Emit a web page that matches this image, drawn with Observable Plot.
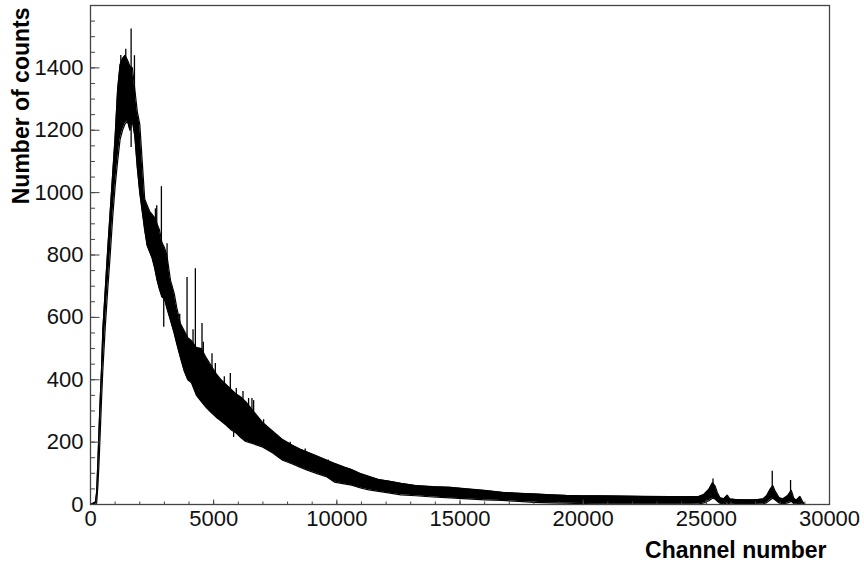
<!DOCTYPE html>
<html>
<head>
<meta charset="utf-8">
<script src="https://cdn.jsdelivr.net/npm/d3@7"></script>
<script src="https://cdn.jsdelivr.net/npm/@observablehq/plot@0.6"></script>
<style>
  html, body { margin: 0; padding: 0; background: #fff; }
</style>
</head>
<body>
<div id="chart"></div>
<script>
// Histogram envelope (channel, lower edge, upper edge of the noisy band)
const channels = [0,200,250,300,350,400,450,500,600,700,800,900,1000,1100,1200,1300,1400,1500,1600,1700,1800,1900,2000,2100,2200,2300,2400,2500,2600,2700,2800,2900,3000,3100,3250,3400,3500,3650,3800,3950,4100,4300,4500,4700,4900,5100,5300,5500,5700,5900,6100,6300,6600,7000,7400,7800,8200,8500,8800,9200,9600,9900,10300,10600,11000,11300,11700,12100,12600,13200,13900,14600,15300,16000,16700,17400,18000,18700,19300,20000,20600,21500,22500,23500,24300,24700,24900,25100,25250,25350,25450,25550,25700,25850,25950,26200,26600,27000,27300,27450,27600,27700,27800,27950,28100,28300,28450,28550,28650,28800,28900,29000];
const lower = [0,0,5,60,140,240,340,430,570,690, 800,920,1020,1100,1170,1200,1220,1230,1200,1230, 1180,1080,1000,940,880,830,810,790,760,720, 690,665,660,630,590,548,516,471,429,400, 390,350,330,311,295,280,268,255,240,230, 215,202,195,184,165,142,130,120,110,99, 88,72,66,62,52,47,42,37,31,28, 24,21,18,15,13,10,7,5,4,3, 2,1,1,1,1,2,5,12,20,18, 10,4,2,5,2,0,0,0,2,6, 15,20,14,5,2,5,10,3,2,4, 1,0];
const upper = [0,8,40,140,250,350,440,560,690,820, 940,1060,1180,1330,1410,1430,1440,1425,1405,1400, 1330,1260,1220,1100,980,960,940,930,920,900, 880,840,824,800,718,676,632,580,558,535, 525,503,500,470,445,420,400,385,370,355, 345,330,300,262,235,208,190,178,168,155, 142,132,120,112,98,90,80,75,68,61, 57,55,50,45,39,36,34,31,29,28, 28,27,26,25,25,26,32,48,70,60, 38,22,18,30,18,16,15,15,18,28, 50,60,42,22,18,28,45,20,14,26, 10,0];

// Isolated spikes sticking out of the band (channel, low end, high end)
const spikeChannels = [1230,1432,1649,1784,2432,2635,2689,2878,2973,3108,3311,3622,3919,4162,4257,4527,4580,4932,5068,5432,5676,5810,5919,6190,6418,6554,6622,7027,7568,8108,8716,9649,11014,25270,27676,28419];
const spikeLow  = [1250,1300,1145,1300,820,820,850,800,568,650,600,520,480,450,480,420,420,380,360,320,300,215,290,270,260,250,250,210,180,160,140,110,70,30,40,20];
const spikeHigh = [1440,1460,1525,1439,932,948,958,1019,700,836,700,610,728,560,756,580,520,483,452,410,420,300,372,362,340,340,333,272,222,200,178,143,95,82,107,77];

// Axes
const xTickLabels = [0,5000,10000,15000,20000,25000,30000];
const xMinorTicks = [0,1000,2000,3000,4000,5000,6000,7000,8000,9000,10000,11000,12000,13000,14000,15000,16000,17000,18000,19000,20000,21000,22000,23000,24000,25000,26000,27000,28000,29000,30000];
const yTickLabels = [0,200,400,600,800,1000,1200,1400];
const yMinorTicks = [0,50,100,150,200,250,300,350,400,450,500,550,600,650,700,750,800,850,900,950,1000,1050,1100,1150,1200,1250,1300,1350,1400,1450,1500,1550,1600];
const xTitle = "Channel number";
const yTitle = "Number of counts";

const band = channels.map((c, i) => ({ch: c, lo: lower[i], hi: upper[i]}));
const spikes = spikeChannels.map((c, i) => ({ch: c, lo: spikeLow[i], hi: spikeHigh[i]}));

const font = "'Liberation Sans', Arial, Helvetica, sans-serif";
const axisColor = "#444";

const chart = Plot.plot({
  width: 864,
  height: 562,
  marginLeft: 90,
  marginRight: 35,
  marginTop: 5,
  marginBottom: 58,
  style: {fontFamily: font, fontSize: "22px", background: "#fff", color: "#000"},
  x: {domain: [0, 30000], label: null},
  y: {domain: [0, 1600], label: null},
  marks: [
    Plot.areaY(band, {x: "ch", y1: "lo", y2: "hi", fill: "#000"}),
    Plot.line(band, {x: "ch", y: "hi", stroke: "#000", strokeWidth: 1.2}),
    Plot.line(band, {x: "ch", y: "lo", stroke: "#000", strokeWidth: 1.2}),
    Plot.ruleX(spikes, {x: "ch", y1: "lo", y2: "hi", stroke: "#000", strokeWidth: 1.3}),
    // inward minor / major ticks
    Plot.axisX({ticks: xMinorTicks, tickSize: 2.5, dy: -2.5, tickFormat: () => "", stroke: axisColor, label: null}),
    Plot.axisX({ticks: xTickLabels, tickSize: 4.5, dy: -4.5, tickFormat: () => "", stroke: axisColor, label: null}),
    Plot.axisY({ticks: yMinorTicks, tickSize: 5, dx: 5, tickFormat: () => "", stroke: axisColor, label: null}),
    Plot.axisY({ticks: yTickLabels, tickSize: 9.5, dx: 9.5, tickFormat: () => "", stroke: axisColor, label: null}),
    // labels
    Plot.axisX({ticks: xTickLabels, tickSize: 0, tickPadding: 6, tickFormat: d => String(d), fill: "#111", label: null}),
    Plot.axisY({ticks: yTickLabels, tickSize: 0, tickPadding: 7, tickFormat: d => String(d), fill: "#111", label: null}),
    Plot.frame({stroke: axisColor, strokeWidth: 1.3}),
    Plot.text([xTitle], {frameAnchor: "bottom-right", text: d => d, textAnchor: "end", lineAnchor: "bottom", dx: -3, dy: 53, fontWeight: "bold", fontSize: 23, fill: "#000"}),
    Plot.text([yTitle], {frameAnchor: "top-left", text: d => d, rotate: -90, textAnchor: "end", lineAnchor: "middle", dx: -69, dy: 2, fontWeight: "bold", fontSize: 23, fill: "#000"})
  ]
});
document.getElementById("chart").appendChild(chart);
</script>
</body>
</html>
